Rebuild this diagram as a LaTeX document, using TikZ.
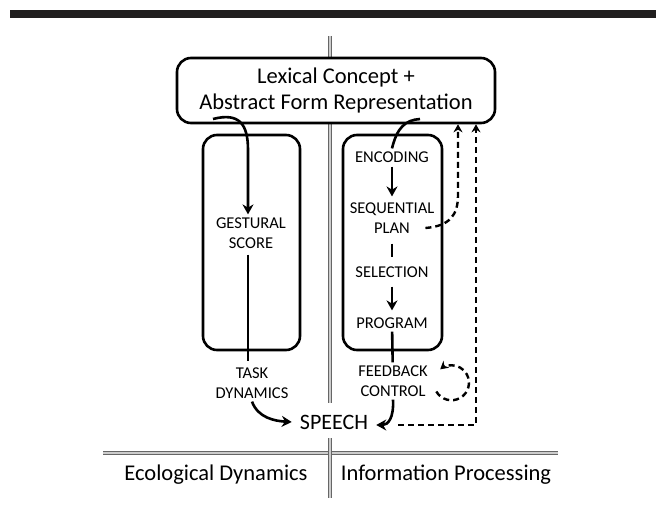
\documentclass[tikz,border=0pt]{standalone}
\usepackage{fontspec}
\setmainfont{Carlito}
\usepackage{tikz}
\usetikzlibrary{arrows.meta}

\begin{document}
\begin{tikzpicture}[x=1pt,y=-1pt]
  \definecolor{bar}   {rgb}{0.13,0.12,0.12};
  \definecolor{rule}  {rgb}{0.40,0.40,0.40};
  \definecolor{gap}   {rgb}{0.80,0.80,0.80};
  \tikzstyle{panel}=[draw,rounded corners=14pt,line width=2.6pt,inner sep=0pt]
  \tikzstyle{stage}=[align=center,font=\fontsize{16.5}{20}\selectfont,inner sep=3pt]
  \tikzstyle{flow}=[line width=2.6pt,-{Stealth[length=10pt,width=11pt]}]
  \tikzstyle{link}=[line width=2.6pt]
  \tikzstyle{back}=[line width=2.4pt,dash pattern=on 6pt off 4pt,-{Stealth[length=8pt,width=9pt]}]
  \tikzstyle{divider}=[draw=rule,line width=1.1pt,double=gap,double distance=1.2pt]
  \useasboundingbox (0,0) rectangle (662,508);
  \fill[bar] (10,10) rectangle (656,18);
  % dividing lines
  \draw[divider] (103,453) -- (558,453);
  \draw[divider] (330,36) -- (330,58);
  \draw[divider] (330,123) -- (330,403);
  \draw[divider] (330,438) -- (330,498);
  % boxes
  \node (lex) at (336,90.5) [panel,minimum width=318,minimum height=65,align=center,
    font=\fontsize{22.5}{26}\selectfont] {Lexical Concept +\\Abstract Form Representation};
  \node (gbox) at (251.5,242.5) [panel,minimum width=97,minimum height=215] {};
  \node (pbox) at (392.5,242.5) [panel,minimum width=99,minimum height=215] {};
  % stages
  \node (gest) at (251,233) [stage] {GESTURAL\\SCORE};
  \node (task) at (252,383) [stage] {TASK\\DYNAMICS};
  \node (enc)  at (392,157) [stage] {ENCODING};
  \node (seq)  at (392,218) [stage] {SEQUENTIAL\\PLAN};
  \node (sel)  at (392,272) [stage] {SELECTION};
  \node (prog) at (392,323) [stage] {PROGRAM};
  \node (fb)   at (393,381) [stage] {FEEDBACK\\CONTROL};
  \node (speech) at (334,422) [inner sep=8pt,font=\fontsize{22}{26}\selectfont] {SPEECH};
  \node (eco)  at (216,475) [font=\fontsize{22.5}{26}\selectfont] {Ecological Dynamics};
  \node (info) at (446,475) [font=\fontsize{22.5}{26}\selectfont] {Information Processing};
  % connectors
  \coordinate (lexL) at (213,119);
  \coordinate (lexR) at (420,119);
  \coordinate (loopS) at (436.3,391.5);
  \coordinate (loopR) at (476,425);
  \draw[flow] (lexL) .. controls (240,112) and (248,125) .. (248,150) -- (gest.north -| 248,0);
  \draw[link,shorten <=3pt,shorten >=3pt] (gest.south -| 248,0) -- (task.north -| 248,0);
  \draw[flow] (task.south) .. controls (258,418) and (275,421) .. (speech.west);
  \draw[link] (lexR) .. controls (405,120) and (397,128) .. (enc.north);
  \draw[flow,shorten <=1pt,shorten >=3pt] (enc) -- (seq);
  \draw[link,shorten <=7pt,shorten >=6pt] (seq) -- (sel);
  \draw[flow,shorten <=6pt,shorten >=4pt] (sel) -- (prog);
  \draw[link] (prog) -- (fb);
  \draw[flow] (fb.south) .. controls (394,418) and (388,425) .. ([yshift=-3pt]speech.east);
  \draw[back] ([xshift=-12pt,yshift=-10pt]seq.east) .. controls (450,226) and (458,215) .. (458,195) -- (458,0 |- lex.south);
  \draw[back] ([xshift=22pt,yshift=-3pt]speech.east) -- (loopR) -- (loopR |- lex.south);
  \draw[back] (loopS) arc[start angle=-210,end angle=-490,radius=17.5];
\end{tikzpicture}
\end{document}
